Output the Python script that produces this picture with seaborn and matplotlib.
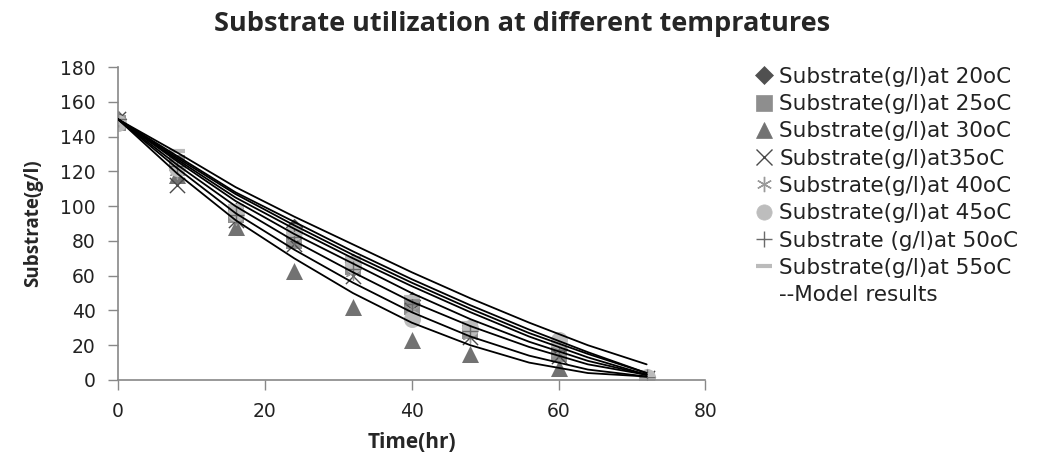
import numpy as np
import pandas as pd
import matplotlib
matplotlib.use("Agg")
import matplotlib.pyplot as plt
from matplotlib.lines import Line2D
import seaborn as sns

# ---- data ----
time_hr = [0, 8, 16, 24, 32, 40, 48, 60, 72]
s_20 = [150, 122, 97, 88, 68, 46, 30, 18, 2]
s_25 = [148, 125, 95, 80, 65, 42, 28, 15, 0]
s_30 = [150, 118, 88, 63, 42, 23, 15, 7, 0]
s_35 = [150, 112, 92, 78, 60, 40, 25, 14, 1]
s_40 = [150, 120, 94, 82, 62, 40, 26, 16, 1]
s_45 = [148, 122, 96, 85, 66, 35, 30, 23, 2]
s_50 = [150, 123, 95, 82, 64, 44, 28, 17, 2]
s_55 = [148, 132, 100, 84, 70, 48, 33, 20, 3]

model_time = [0, 8, 16, 24, 32, 40, 48, 56, 64, 72]
m_1 = [150, 131, 111, 94, 78, 62, 47, 33, 20, 9]
m_2 = [150, 129, 108, 91, 74, 58, 43, 29, 16, 4]
m_3 = [150, 128, 107, 89, 72, 56, 41, 27, 15, 4]
m_4 = [150, 127, 105, 87, 70, 54, 39, 25, 13, 3]
m_5 = [150, 126, 103, 84, 67, 50, 35, 22, 11, 3]
m_6 = [150, 124, 100, 80, 62, 45, 31, 19, 9, 3]
m_7 = [150, 122, 96, 75, 56, 39, 25, 14, 6, 2]
m_8 = [150, 119, 92, 70, 50, 33, 20, 10, 4, 2]

labels = ["Substrate(g/l)at 20oC", "Substrate(g/l)at 25oC", "Substrate(g/l)at 30oC",
          "Substrate(g/l)at35oC", "Substrate(g/l)at 40oC", "Substrate(g/l)at 45oC",
          "Substrate (g/l)at 50oC", "Substrate(g/l)at 55oC"]
model_label = "--Model results"
title = "Substrate utilization at different tempratures"
xlabel = "Time(hr)"
ylabel = "Substrate(g/l)"
xticks = [0, 20, 40, 60, 80]
yticks = [0, 20, 40, 60, 80, 100, 120, 140, 160, 180]

series = [s_20, s_25, s_30, s_35, s_40, s_45, s_50, s_55]
models = [m_1, m_2, m_3, m_4, m_5, m_6, m_7, m_8]

# ---- styles ----
styles = [
    dict(marker="D", color="#505050", s=80, lw=0),
    dict(marker="s", color="#8e8e8e", s=130, lw=0),
    dict(marker="^", color="#727272", s=150, lw=0),
    dict(marker="x", color="#4a4a4a", s=120, lw=1.0),
    dict(marker=(6, 2, 0), color="#9a9a9a", s=120, lw=1.0),
    dict(marker="o", color="#bdbdbd", s=150, lw=0),
    dict(marker="+", color="#6a6a6a", s=140, lw=1.0),
    dict(marker="_", color="#bbbbbb", s=120, lw=3.0),
]

sns.set_theme(style="white")
plt.rcParams["font.family"] = ["DejaVu Sans"]

fig = plt.figure(figsize=(10.45, 4.54), dpi=100)
ax = fig.add_axes([0.113, 0.163, 0.562, 0.689])

for vals, st in zip(series, styles):
    df = pd.DataFrame({"t": time_hr, "S": vals})
    sns.scatterplot(data=df, x="t", y="S", ax=ax, marker=st["marker"], color=st["color"],
                    s=st["s"], linewidth=st["lw"], edgecolor=st["color"] if st["lw"] == 0 else None,
                    zorder=2)

for mv in models:
    df = pd.DataFrame({"t": model_time, "S": mv})
    sns.lineplot(data=df, x="t", y="S", ax=ax, color="black", linewidth=1.3,
                 estimator=None, sort=False, zorder=3)

ax.set_xlim(0, 80)
ax.set_ylim(0, 180)
ax.set_xticks(xticks)
ax.set_yticks(yticks)
ax.tick_params(axis="both", labelsize=13.5, length=7, width=1, color="#888888",
               labelcolor="#222222", direction="out", bottom=True, left=True)
ax.tick_params(axis="y", pad=9)
ax.tick_params(axis="x", pad=9)
for side in ["top", "right"]:
    ax.spines[side].set_visible(False)
for side in ["left", "bottom"]:
    ax.spines[side].set_color("#888888")
    ax.spines[side].set_linewidth(1.2)

ax.set_xlabel(xlabel, fontsize=15, fontweight="bold", family="Open Sans", labelpad=8)
ax.set_ylabel(ylabel, fontsize=13.5, fontweight="bold", family="Open Sans", labelpad=12)
fig.suptitle(title, fontsize=19.5, fontweight="bold", family="Open Sans", y=0.975)

handles = []
for lab, st in zip(labels, styles):
    handles.append(Line2D([], [], linestyle="none", marker=st["marker"], color=st["color"],
                          markersize=11 if st["marker"] != "D" else 9,
                          markeredgewidth=st["lw"] if st["lw"] else 0.5,
                          markeredgecolor=st["color"], label=lab))
handles.append(Line2D([], [], linestyle="none", marker=None, label=model_label))
leg = fig.legend(handles=handles, loc="upper left", bbox_to_anchor=(0.716, 0.872),
                 frameon=False, fontsize=15.5, handlelength=0.7, handletextpad=0.35,
                 labelspacing=0.34, borderaxespad=0)
for t in leg.get_texts():
    t.set_color("#222222")

fig.savefig("out.png", dpi=100)
